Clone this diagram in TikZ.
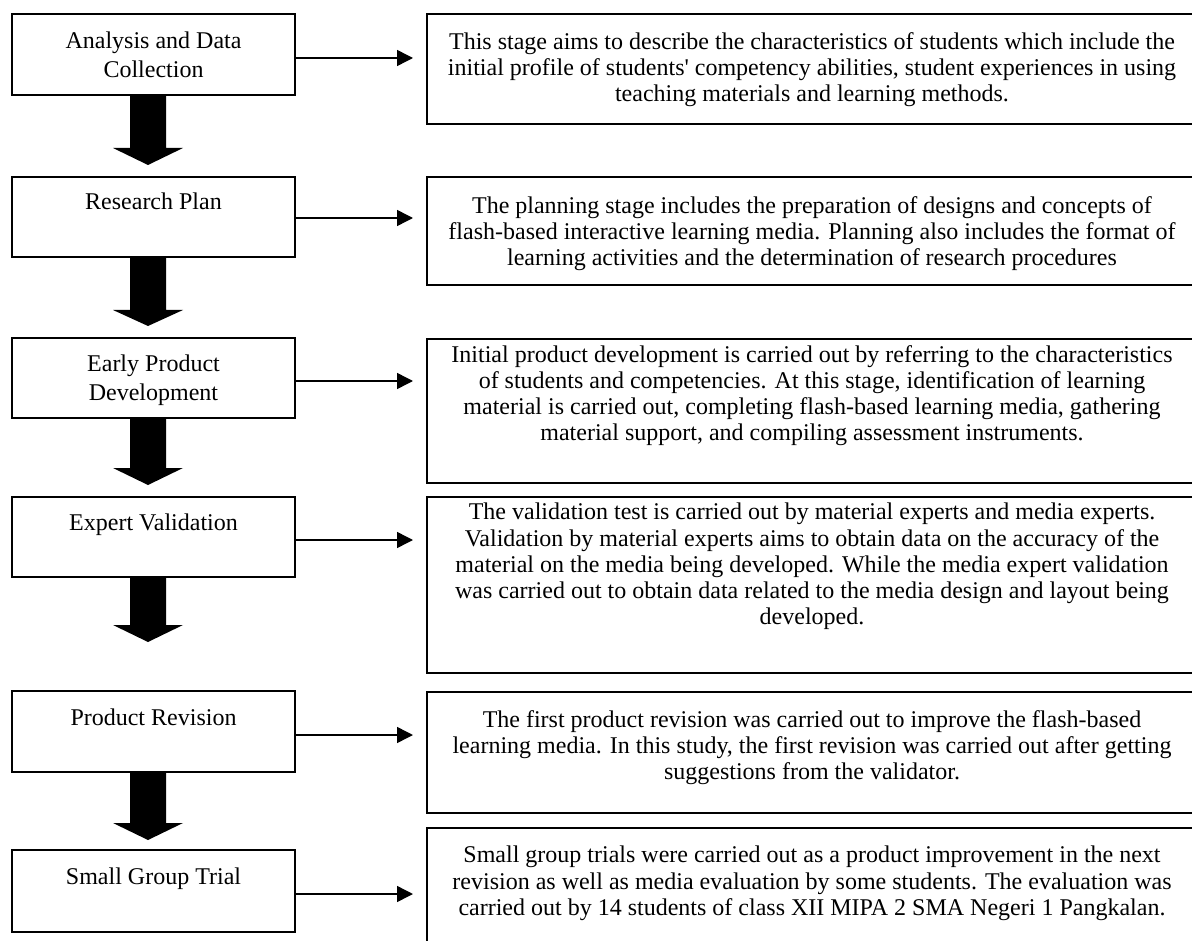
\documentclass[tikz,border=0pt]{standalone}
\usepackage{fontspec}
\setmainfont{Liberation Serif}[Ligatures=TeXOff]
\usetikzlibrary{arrows.meta}
\newdimen\px \px=0.75pt
\begin{document}
\begin{tikzpicture}[x=0.75pt,y=-0.75pt,
  box/.style={draw,line width=1.1pt,inner sep=0pt},
  lbl/.style={anchor=north,inner sep=0pt,align=center,font=\fontsize{18pt}{21.75pt}\selectfont},
  desc/.style={anchor=north,inner sep=0pt,align=center,font=\fontsize{18pt}{19.6pt}\selectfont},
  link/.style={line width=1.1pt,-{Triangle[length=12pt,width=12pt]}},
  blk/.style={fill=black}]
\useasboundingbox (0,0) rectangle (1192,941);
\clip (0,0) rectangle (1192,941);

% left boxes
\node[box,minimum width=283\px,minimum height=81\px] (L1) at (153.5,54.5) {};
\node[box,minimum width=283\px,minimum height=80\px] (L2) at (153.5,217) {};
\node[box,minimum width=283\px,minimum height=80\px] (L3) at (153.5,378) {};
\node[box,minimum width=283\px,minimum height=80\px] (L4) at (153.5,537) {};
\node[box,minimum width=283\px,minimum height=81\px] (L5) at (153.5,731.5) {};
\node[box,minimum width=283\px,minimum height=82\px] (L6) at (153.5,891) {};

\node[lbl] (t1) at (153.5,32) {Analysis and Data\\Collection};
\node[lbl] (t2) at (153.5,193) {Research Plan};
\node[lbl] (t3) at (153.5,355) {Early Product\\Development};
\node[lbl] (t4) at (153.5,514) {Expert Validation};
\node[lbl] (t5) at (153.5,709) {Product Revision};
\node[lbl] (t6) at (153.5,868) {Small Group Trial};

% right boxes
\node[box,minimum width=783\px,minimum height=110\px] (R1) at (818.5,69) {};
\node[box,minimum width=783\px,minimum height=108\px] (R2) at (818.5,231) {};
\node[box,minimum width=783\px,minimum height=144\px] (R3) at (818.5,411) {};
\node[box,minimum width=783\px,minimum height=176\px] (R4) at (818.5,585) {};
\node[box,minimum width=783\px,minimum height=121\px] (R5) at (818.5,752.5) {};
\node[box,minimum width=783\px,minimum height=142\px] (R6) at (818.5,899) {};

\node[desc] (d1) at (812,32) {This stage aims to describe the characteristics of students which include the\\initial profile of students' competency abilities, student experiences in using\\teaching materials and learning methods.};
\node[desc] (d2) at (812,196) {The planning stage includes the preparation of designs and concepts of\\flash-based interactive learning media. Planning also includes the format of\\learning activities and the determination of research procedures};
\node[desc] (d3) at (812,345) {Initial product development is carried out by referring to the characteristics\\of students and competencies. At this stage, identification of learning\\material is carried out, completing flash-based learning media, gathering\\material support, and compiling assessment instruments.};
\node[desc] (d4) at (812,503) {The validation test is carried out by material experts and media experts.\\Validation by material experts aims to obtain data on the accuracy of the\\material on the media being developed. While the media expert validation\\was carried out to obtain data related to the media design and layout being\\developed.};
\node[desc] (d5) at (812,710) {The first product revision was carried out to improve the flash-based\\learning media. In this study, the first revision was carried out after getting\\suggestions from the validator.};
\node[desc] (d6) at (812,846) {Small group trials were carried out as a product improvement in the next\\revision as well as media evaluation by some students. The evaluation was\\carried out by 14 students of class XII MIPA 2 SMA Negeri 1 Pangkalan.};

% thin arrows
\coordinate (e1) at (413,58);
\coordinate (e2) at (413,218);
\coordinate (e3) at (413,381);
\coordinate (e4) at (413,540);
\coordinate (e5) at (413,735);
\coordinate (e6) at (413,894);
\foreach \i in {1,...,6} {\draw[link] (L\i.east |- e\i) -- (e\i);}

% block arrows
\foreach \ys/\yh/\yt in {95/148/165, 257/310/326, 418/468/485, 577/625/642, 772/823/840} {
  \fill[blk] (130,\ys) -- (166,\ys) -- (166,\yh) -- (183,\yh) -- (148,\yt) -- (113,\yh) -- (130,\yh) -- cycle;
}
\end{tikzpicture}
\end{document}
